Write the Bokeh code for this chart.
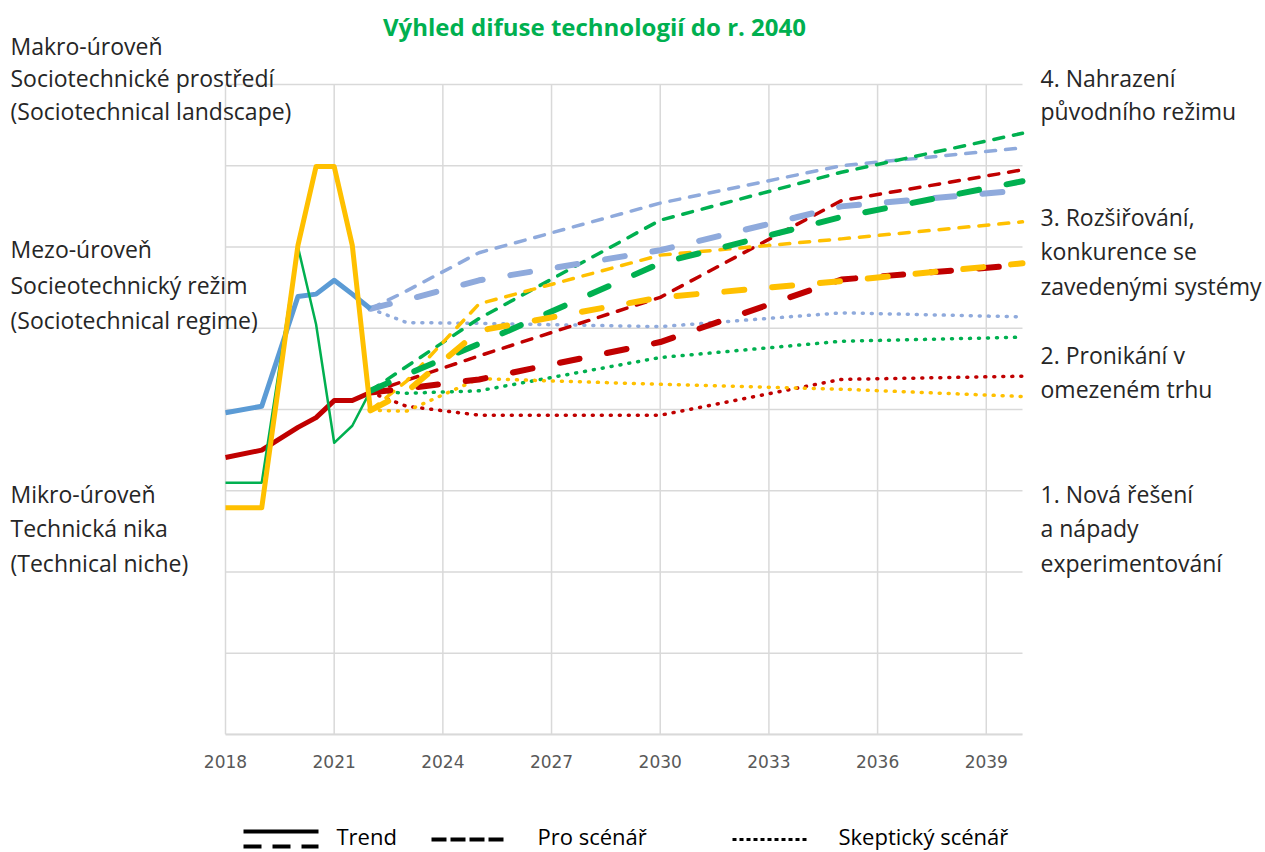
from bokeh.plotting import figure
from bokeh.models import Range1d, FixedTicker
from bokeh.layouts import column
from bokeh.core.properties import value
from bokeh.embed import file_html
from bokeh.resources import INLINE

# ---------------- data ----------------
TITLE = "Výhled difuse technologií do r. 2040"

TICK_YEARS = [2018, 2021, 2024, 2027, 2030, 2033, 2036, 2039]
Y_LEVELS = [0, 1, 2, 3, 4, 5, 6, 7, 8]

HIST_YEARS = [2018, 2019, 2020, 2020.5, 2021, 2021.5, 2022]
blue_hist = [3.96, 4.04, 5.39, 5.42, 5.59, 5.42, 5.24]
red_hist = [3.41, 3.50, 3.78, 3.90, 4.11, 4.11, 4.21]
green_hist = [3.10, 3.10, 6.00, 5.05, 3.59, 3.80, 4.23]
yellow_hist = [2.79, 2.79, 6.02, 6.99, 6.99, 6.02, 3.99]

PROJ_YEARS = [2022, 2023, 2025, 2030, 2035, 2040]
blue_trend = [5.24, 5.35, 5.59, 5.96, 6.50, 6.70]
blue_pro = [5.24, 5.46, 5.93, 6.54, 7.00, 7.22]
blue_skept = [5.24, 5.07, 5.06, 5.02, 5.19, 5.14]
red_trend = [4.21, 4.26, 4.37, 4.83, 5.60, 5.78]
red_pro = [4.21, 4.36, 4.66, 5.38, 6.57, 6.95]
red_skept = [4.21, 4.04, 3.93, 3.93, 4.37, 4.41]
green_trend = [4.23, 4.43, 4.81, 5.80, 6.37, 6.81]
green_pro = [4.23, 4.53, 5.12, 6.33, 6.92, 7.40]
green_skept = [4.23, 4.20, 4.23, 4.64, 4.84, 4.89]
yellow_trend = [3.99, 4.22, 4.97, 5.38, 5.58, 5.80]
yellow_pro = [3.99, 4.35, 5.30, 5.90, 6.10, 6.31]
yellow_skept = [3.99, 3.98, 4.38, 4.31, 4.25, 4.16]

LEFT_LABELS = [
    "Makro-úroveň", "Sociotechnické prostředí", "(Sociotechnical landscape)",
    "Mezo-úroveň", "Socieotechnický režim", "(Sociotechnical regime)",
    "Mikro-úroveň", "Technická nika", "(Technical niche)",
]
RIGHT_LABELS = [
    "4. Nahrazení", "původního režimu",
    "3. Rozšiřování,", "konkurence se", "zavedenými systémy",
    "2. Pronikání v", "omezeném trhu",
    "1. Nová řešení", "a nápady", "experimentování",
]
LEGEND_LABELS = ["Trend", "Pro scénář", "Skeptický scénář"]

# ---------------- styles / layout ----------------
BLUE, BLUE_L = "#5B9BD5", "#8FAADC"
RED, GREEN, YELLOW = "#C00000", "#00B050", "#FFC000"
GRID = "#D9D9D9"
TEXT = "#262626"
FONT = "Open Sans"
FS = "23px"

series = [
    (blue_hist, blue_trend, blue_pro, blue_skept, BLUE, BLUE_L, 5),
    (red_hist, red_trend, red_pro, red_skept, RED, RED, 5),
    (green_hist, green_trend, green_pro, green_skept, GREEN, GREEN, 2.5),
    (yellow_hist, yellow_trend, yellow_pro, yellow_skept, YELLOW, YELLOW, 5),
]

PAGE_W, PAGE_H = 1265, 852
FL, FR, FT, FB = 225, 1022, 84, 734   # data area edges in page pixels
MAIN_H = 800                          # legend strip starts here
X0, X1, Y0, Y1 = 2018, 2040, 0, 8
SX = (FR - FL) / (X1 - X0)            # px per year
SY = (FB - FT) / (Y1 - Y0)            # px per unit


def px_x(px):
    return X0 + (px - FL) / SX


def px_y(py):
    return Y0 + (FB - py) / SY


# main figure: frame spans the full width and from the top down to the axis
p = figure(width=PAGE_W, height=MAIN_H, output_backend="svg", toolbar_location=None,
           x_range=Range1d(px_x(0), px_x(PAGE_W)), y_range=Range1d(Y0, px_y(0)),
           min_border=0, min_border_left=0, min_border_right=0,
           min_border_top=0, min_border_bottom=MAIN_H - FB)
p.outline_line_color = None
p.yaxis.visible = False
p.grid.visible = False
p.xaxis.ticker = FixedTicker(ticks=TICK_YEARS)
p.xaxis.bounds = (X0, X1)
p.xaxis.major_tick_line_color = None
p.xaxis.minor_tick_line_color = None
p.xaxis.axis_line_color = GRID
p.xaxis.axis_line_width = 2
p.xaxis.major_label_text_color = "#595959"
p.xaxis.major_label_text_font = "DejaVu Sans"
p.xaxis.major_label_text_font_size = "17px"
p.xaxis.major_label_standoff = 14

# grid lines limited to the data area
p.segment(x0=TICK_YEARS, y0=[Y0] * len(TICK_YEARS), x1=TICK_YEARS,
          y1=[Y1] * len(TICK_YEARS), line_color=GRID, line_width=1.5)
p.segment(x0=[X0] * len(Y_LEVELS), y0=Y_LEVELS, x1=[X1] * len(Y_LEVELS),
          y1=Y_LEVELS, line_color=GRID, line_width=1.5)

for hist, trend, pro, skept, c_solid, c_proj, hw in series:
    p.line(PROJ_YEARS, skept, line_color=c_proj, line_width=3.5,
           line_dash="1 8", line_cap="round")
for hist, trend, pro, skept, c_solid, c_proj, hw in series:
    p.line(PROJ_YEARS, pro, line_color=c_proj, line_width=3.5,
           line_dash="10 10", line_cap="round")
for hist, trend, pro, skept, c_solid, c_proj, hw in series:
    p.line(PROJ_YEARS, trend, line_color=c_proj, line_width=6,
           line_dash="20 28", line_cap="round")
for hist, trend, pro, skept, c_solid, c_proj, hw in series:
    p.line(HIST_YEARS, hist, line_color=c_solid, line_width=hw,
           line_join="round")


def texts(f, xs, ys, labels, color=TEXT, size=FS, style="normal", align="left"):
    f.text(x=xs, y=ys, text=labels, text_font=value(FONT),
           text_font_size=value(size), text_color=color,
           text_font_style=style, text_baseline="middle", text_align=align)


texts(p, [px_x(594)], [px_y(26)], [TITLE], color=GREEN, size="24px",
      style="bold", align="center")

left_y = [45, 77, 110, 248, 284, 319, 493, 527, 562]
texts(p, [px_x(10)] * len(LEFT_LABELS), [px_y(v) for v in left_y], LEFT_LABELS)

right_y = [77, 110, 216, 250, 285, 354, 388, 493, 527, 562]
texts(p, [px_x(1040)] * len(RIGHT_LABELS), [px_y(v) for v in right_y], RIGHT_LABELS)

# legend strip (page pixel coordinates)
lg = figure(width=PAGE_W, height=PAGE_H - MAIN_H, output_backend="svg",
            toolbar_location=None, x_range=Range1d(0, PAGE_W),
            y_range=Range1d(PAGE_H, MAIN_H), min_border=0, min_border_left=0,
            min_border_right=0, min_border_top=0, min_border_bottom=0)
lg.outline_line_color = None
lg.axis.visible = False
lg.grid.visible = False
lg.line([243, 318], [831, 831], line_color="black", line_width=4)
lg.line([243, 318], [846, 846], line_color="black", line_width=4, line_dash="18 11")
lg.line([431, 507], [839, 839], line_color="black", line_width=4, line_dash="15 4")
lg.line([732, 807], [839, 839], line_color="black", line_width=3, line_dash="4 3")
texts(lg, [336, 537, 838], [835, 835, 835], LEGEND_LABELS, color="black", size="22px")

layout = column(p, lg, spacing=0)
open("out.html", "w").write(file_html(layout, INLINE))
